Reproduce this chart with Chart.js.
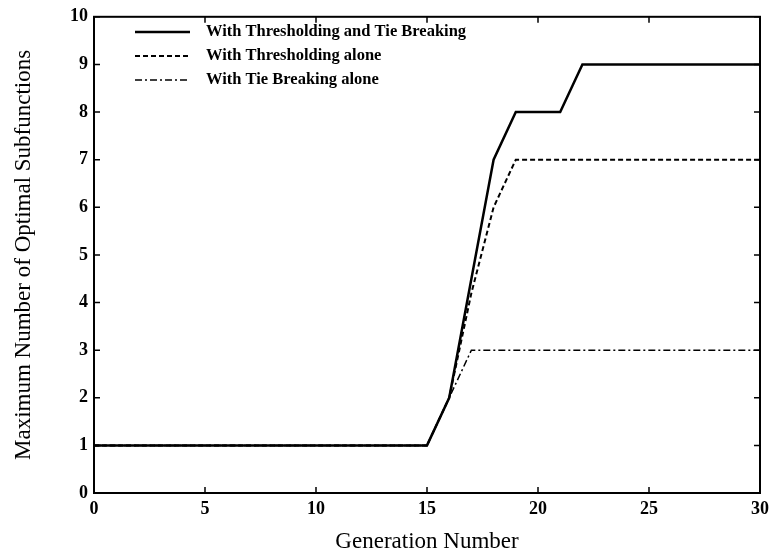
<!DOCTYPE html>
<html>
<head>
<meta charset="utf-8">
<script src="https://cdn.jsdelivr.net/npm/chart.js@4"></script>
<style>
  body { margin: 0; background: #fff; }
  #wrap { width: 775px; height: 560px; }
</style>
</head>
<body>
<div id="wrap"><canvas id="chart" width="775" height="560"></canvas></div>
<script>
// generations 0..30
const generations = [];
for (let g = 0; g <= 30; g++) generations.push(g);

// values
const bothValues  = [1,1,1,1,1,1,1,1,1,1,1,1,1,1,1,1, 2, 4.5, 7, 8, 8, 8, 9, 9, 9, 9, 9, 9, 9, 9, 9];
const threshValues = [1,1,1,1,1,1,1,1,1,1,1,1,1,1,1,1, 2, 4.2, 6, 7, 7, 7, 7, 7, 7, 7, 7, 7, 7, 7, 7];
const tieValues   = [1,1,1,1,1,1,1,1,1,1,1,1,1,1,1,1, 2, 3, 3, 3, 3, 3, 3, 3, 3, 3, 3, 3, 3, 3, 3];

const seriesNames = ['With Thresholding and Tie Breaking', 'With Thresholding alone', 'With Tie Breaking alone'];
const xTicks = [0, 5, 10, 15, 20, 25, 30];
const yTicks = [0, 1, 2, 3, 4, 5, 6, 7, 8, 9, 10];

const serif = "'Liberation Serif', 'Times New Roman', serif";

function toPoints(vals) {
  return vals.map((v, i) => ({ x: generations[i], y: v }));
}

// frame + inward tick marks on all four sides, legend top-left
const framePlugin = {
  id: 'frame',
  afterDraw(chart) {
    const ctx = chart.ctx;
    const a = chart.chartArea;
    const xs = chart.scales.x, ys = chart.scales.y;
    ctx.save();
    ctx.strokeStyle = '#000';
    ctx.lineWidth = 2;
    ctx.setLineDash([]);
    ctx.strokeRect(a.left, a.top, a.right - a.left, a.bottom - a.top);
    ctx.lineWidth = 1.5;
    ctx.beginPath();
    xTicks.forEach(t => {
      const px = xs.getPixelForValue(t);
      ctx.moveTo(px, a.bottom); ctx.lineTo(px, a.bottom - 6);
      ctx.moveTo(px, a.top); ctx.lineTo(px, a.top + 6);
    });
    yTicks.forEach(t => {
      const py = ys.getPixelForValue(t);
      ctx.moveTo(a.left, py); ctx.lineTo(a.left + 6, py);
      ctx.moveTo(a.right, py); ctx.lineTo(a.right - 6, py);
    });
    ctx.stroke();

    const rows = [32, 56, 80];
    chart.data.datasets.forEach((ds, i) => {
      ctx.beginPath();
      ctx.strokeStyle = '#000';
      ctx.lineWidth = ds.borderWidth;
      ctx.setLineDash(ds.borderDash || []);
      ctx.moveTo(135, rows[i]);
      ctx.lineTo(190, rows[i]);
      ctx.stroke();
      ctx.setLineDash([]);
      ctx.fillStyle = '#000';
      ctx.font = 'bold 16.5px ' + serif;
      ctx.textBaseline = 'middle';
      ctx.textAlign = 'left';
      ctx.fillText(ds.label, 206, rows[i]);
    });
    ctx.restore();
  }
};

new Chart(document.getElementById('chart'), {
  type: 'line',
  data: {
    datasets: [
      { label: seriesNames[0], data: toPoints(bothValues), borderColor: '#000', borderWidth: 2.5, pointRadius: 0, tension: 0 },
      { label: seriesNames[1], data: toPoints(threshValues), borderColor: '#000', borderWidth: 2, borderDash: [5, 3], pointRadius: 0, tension: 0 },
      { label: seriesNames[2], data: toPoints(tieValues), borderColor: '#000', borderWidth: 1.5, borderDash: [7, 3, 2, 3], pointRadius: 0, tension: 0 }
    ]
  },
  options: {
    responsive: false,
    animation: false,
    layout: { padding: { top: 14, right: 13, left: 0, bottom: 0 } },
    plugins: { legend: { display: false }, tooltip: { enabled: false } },
    scales: {
      x: {
        type: 'linear', min: 0, max: 30,
        afterBuildTicks: s => { s.ticks = xTicks.map(v => ({ value: v })); },
        afterFit: s => { s.height = 67; },
        grid: { display: false, drawTicks: false },
        border: { display: false },
        ticks: { color: '#000', padding: 6, font: { family: serif, size: 18, weight: 'bold' } },
        title: { display: true, text: 'Generation Number', color: '#000', padding: { top: 0, bottom: 4 }, font: { family: serif, size: 23 } }
      },
      y: {
        type: 'linear', min: 0, max: 10,
        afterBuildTicks: s => { s.ticks = yTicks.map(v => ({ value: v })); },
        afterFit: s => { s.width = 94; },
        grid: { display: false, drawTicks: false },
        border: { display: false },
        ticks: { color: '#000', padding: 6, font: { family: serif, size: 18, weight: 'bold' } },
        title: { display: true, text: 'Maximum Number of Optimal Subfunctions', color: '#000', padding: { top: 10, bottom: 0 }, font: { family: serif, size: 23 } }
      }
    }
  },
  plugins: [framePlugin]
});
</script>
</body>
</html>
